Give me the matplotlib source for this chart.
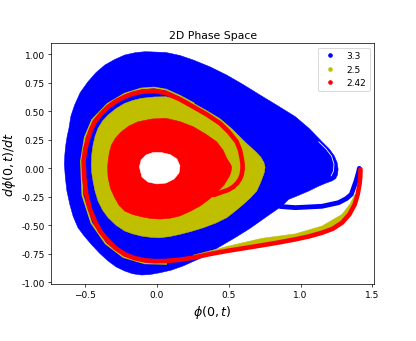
import matplotlib
matplotlib.use("Agg")
import matplotlib.pyplot as plt
from matplotlib.lines import Line2D

# legend labels (parameter values) and colours
labels = ["3.3", "2.5", "2.42"]
colors = ["b", "y", "r"]

# --- 3.3 run: filled region of the phase portrait
blue_x = [-0.050, 0.063, 0.160, 0.253, 0.370, 0.486, 0.600, 0.718, 0.840, 0.964,
          1.060, 1.150, 1.200, 1.235, 1.255, 1.262, 1.258, 1.245, 1.220, 1.180,
          1.120, 1.057, 0.990, 0.918, 0.871, 0.770, 0.650, 0.555, 0.420, 0.300,
          0.181, 0.100, 0.021, -0.050, -0.109, -0.170, -0.225, -0.285, -0.341, -0.400,
          -0.458, -0.510, -0.551, -0.585, -0.608, -0.628, -0.639, -0.646, -0.642, -0.635,
          -0.625, -0.614, -0.600, -0.574, -0.535, -0.481, -0.425, -0.364, -0.295, -0.225,
          -0.150, -0.086]
blue_y = [1.022, 1.016, 0.990, 0.950, 0.890, 0.818, 0.735, 0.643, 0.550, 0.453,
          0.350, 0.233, 0.170, 0.110, 0.050, -0.006, -0.055, -0.090, -0.110, -0.128,
          -0.160, -0.199, -0.235, -0.272, -0.330, -0.418, -0.525, -0.600, -0.700, -0.790,
          -0.857, -0.893, -0.916, -0.932, -0.936, -0.925, -0.901, -0.865, -0.813, -0.745,
          -0.667, -0.590, -0.521, -0.420, -0.316, -0.200, -0.082, 0.040, 0.130, 0.213,
          0.290, 0.351, 0.460, 0.556, 0.665, 0.760, 0.840, 0.906, 0.955, 0.994,
          1.015, 1.023]
# 3.3 run: transient tail
blue_tail_x = [0.860, 0.964, 1.150, 1.266, 1.320, 1.354, 1.387, 1.405, 1.410]
blue_tail_y = [-0.335, -0.345, -0.333, -0.301, -0.265, -0.228, -0.111, -0.030, 0.000]
# gap inside the 3.3 region near the turning point
gap_x = [1.127, 1.178, 1.216, 1.233, 1.230, 1.213]
gap_y = [0.233, 0.170, 0.108, 0.038, -0.023, -0.067]

# --- 2.5 run: filled band
yel_x = [-0.458, -0.455, -0.446, -0.432, -0.411, -0.380, -0.341, -0.285, -0.225, -0.165,
         -0.109, -0.020, 0.063, 0.160, 0.253, 0.348, 0.439, 0.523, 0.613, 0.690,
         0.725, 0.745, 0.753, 0.748, 0.739, 0.720, 0.695, 0.650, 0.601, 0.545,
         0.486, 0.410, 0.323, 0.240, 0.160, 0.090, 0.021, -0.045, -0.109, -0.170,
         -0.225, -0.285, -0.341, -0.380, -0.411, -0.432, -0.446, -0.455]
yel_y = [0.029, 0.120, 0.204, 0.280, 0.351, 0.415, 0.468, 0.525, 0.570, 0.597,
         0.614, 0.626, 0.628, 0.600, 0.572, 0.505, 0.435, 0.345, 0.231, 0.143,
         0.095, 0.050, 0.010, -0.035, -0.067, -0.130, -0.199, -0.260, -0.316, -0.375,
         -0.433, -0.480, -0.521, -0.553, -0.579, -0.598, -0.609, -0.605, -0.594, -0.575,
         -0.550, -0.500, -0.433, -0.365, -0.287, -0.200, -0.111, -0.040]
# 2.5 run: thin outer orbit
yel_orbit_x = [0.253, 0.160, 0.063, -0.020, -0.109, -0.225, -0.345, -0.452, -0.503,
               -0.530, -0.520, -0.458, -0.358, -0.235, -0.086, 0.063]
yel_orbit_y = [0.572, 0.635, 0.690, 0.708, 0.700, 0.655, 0.565, 0.425, 0.272,
               0.064, -0.235, -0.478, -0.660, -0.778, -0.833, -0.838]
# 2.5 run: tail, upper edge (lower edge runs along the 2.42 tail)
yel_tail_x = [0.253, 0.486, 0.732, 0.964, 1.150, 1.289, 1.345, 1.380]
yel_tail_y = [-0.762, -0.686, -0.614, -0.575, -0.506, -0.404, -0.313, -0.226]

# --- 2.42 run: orbit from the tail tip spiralling into the core
red_orbit_x = [1.418, 1.416, 1.411, 1.398, 1.378, 1.340, 1.289, 1.225, 1.150, 1.060,
               0.964, 0.850, 0.732, 0.610, 0.486, 0.370, 0.253, 0.160, 0.063, -0.015,
               -0.086, -0.160, -0.225, -0.290, -0.341, -0.395, -0.434, -0.470, -0.493,
               -0.507, -0.512, -0.500, -0.481, -0.460, -0.434, -0.390, -0.341, -0.285,
               -0.225, -0.165, -0.109, -0.020, 0.063, 0.160, 0.253, 0.350, 0.439,
               0.500, 0.555, 0.578, 0.590, 0.596, 0.596, 0.590, 0.578, 0.558, 0.530,
               0.495, 0.453, 0.397]
red_orbit_y = [-0.009, -0.080, -0.140, -0.230, -0.316, -0.405, -0.477, -0.530, -0.565,
               -0.597, -0.623, -0.650, -0.675, -0.700, -0.725, -0.752, -0.784, -0.802,
               -0.813, -0.815, -0.807, -0.787, -0.754, -0.700, -0.638, -0.555, -0.462,
               -0.350, -0.228, -0.080, 0.064, 0.170, 0.263, 0.340, 0.409, 0.478, 0.540,
               0.590, 0.628, 0.656, 0.672, 0.680, 0.660, 0.605, 0.540, 0.470, 0.395,
               0.320, 0.233, 0.160, 0.088, 0.040, -0.006, -0.055, -0.094, -0.130,
               -0.164, -0.190, -0.208, -0.234]
# 2.42 run: filled core
red_x = [-0.035, 0.063, 0.160, 0.253, 0.340, 0.416, 0.460, 0.486, 0.510, 0.521,
         0.515, 0.505, 0.467, 0.416, 0.360, 0.300, 0.230, 0.160, 0.090, 0.021,
         -0.045, -0.109, -0.170, -0.225, -0.265, -0.295, -0.325, -0.341, -0.345, -0.341,
         -0.332, -0.318, -0.290, -0.249, -0.195, -0.132]
red_y = [0.433, 0.439, 0.410, 0.365, 0.300, 0.233, 0.160, 0.088, 0.040, 0.012,
         -0.030, -0.068, -0.146, -0.214, -0.275, -0.331, -0.378, -0.418, -0.438, -0.445,
         -0.440, -0.425, -0.405, -0.375, -0.325, -0.258, -0.175, -0.082, 0.000, 0.064,
         0.140, 0.204, 0.265, 0.321, 0.372, 0.409]
# empty centre of the core
hole_x = [-0.123, -0.111, -0.077, -0.028, 0.028, 0.091, 0.139, 0.160, 0.153, 0.118,
          0.063, 0.000, -0.063, -0.105]
hole_y = [0.011, 0.073, 0.117, 0.139, 0.139, 0.121, 0.082, 0.020, -0.041, -0.094,
          -0.129, -0.137, -0.120, -0.076]

PX = 72 / 65  # one pixel in points

fig = plt.figure(figsize=(6.4, 5.26), dpi=65)
ax = fig.add_axes([0.1226, 0.1667, 0.7771, 0.7047])

ax.fill(blue_x, blue_y, color="b", lw=0.5 * PX)
ax.plot(blue_tail_x, blue_tail_y, color="b", lw=4.8 * PX, solid_capstyle="round")
ax.plot(gap_x, gap_y, color="white", lw=0.8 * PX, solid_capstyle="round")

ax.fill(yel_x, yel_y, color="y", lw=0.5 * PX)
ax.plot(yel_orbit_x, yel_orbit_y, color="y", lw=1.8 * PX)
ax.fill(yel_tail_x + red_orbit_x[4:17], yel_tail_y + red_orbit_y[4:17],
        color="y", lw=0.5 * PX)

ax.fill(red_x, red_y, color="r", lw=0.5 * PX)
ax.plot(red_orbit_x, red_orbit_y, color="r", lw=4.6 * PX, solid_capstyle="round")
ax.fill(hole_x, hole_y, color="white", lw=0.5 * PX)

ax.set_xlim(-0.739, 1.514)
ax.set_ylim(-1.015, 1.099)
ax.set_xticks([-0.5, 0.0, 0.5, 1.0, 1.5])
ax.set_yticks([-1.0, -0.75, -0.5, -0.25, 0.0, 0.25, 0.5, 0.75, 1.0])
ax.set_yticklabels(["%.2f" % v for v in ax.get_yticks()])
ax.set_title("2D Phase Space", fontsize=12)
ax.set_xlabel(r"$\phi(0,t)$", fontsize=14)
ax.set_ylabel(r"$d\phi(0,t)/dt$", fontsize=14)

handles = [Line2D([], [], ls="none", marker="o", ms=4, color=c) for c in colors]
ax.legend(handles, labels, loc="upper right")

fig.savefig("out.png", dpi=65)
